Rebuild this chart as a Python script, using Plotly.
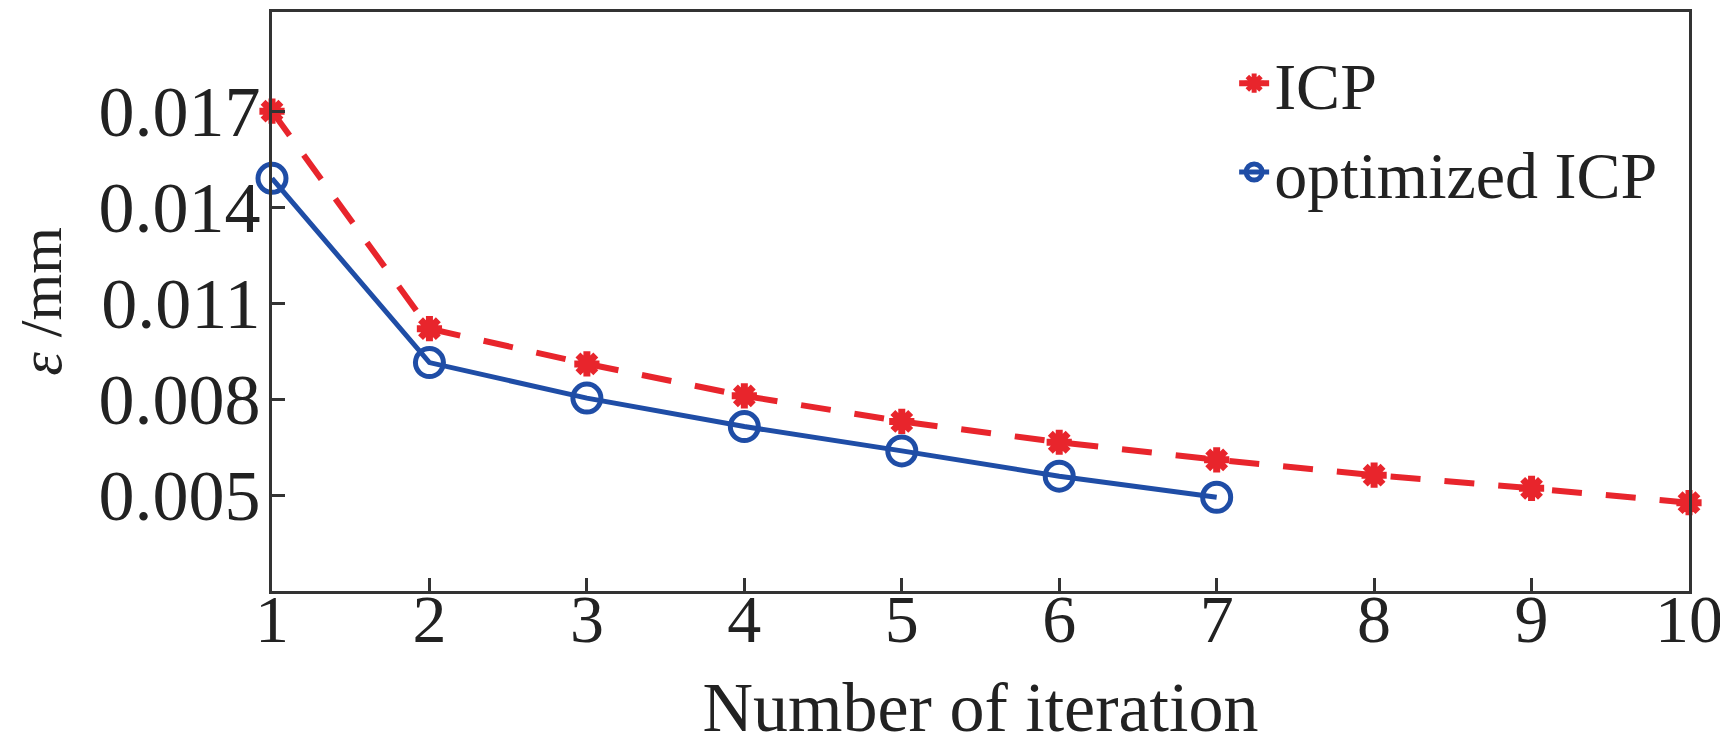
import plotly.graph_objects as go

iterations_icp = [1, 2, 3, 4, 5, 6, 7, 8, 9, 10]
error_icp = [0.0170, 0.0102, 0.0091, 0.0081, 0.0073, 0.00665, 0.0061, 0.00562, 0.00521, 0.00476]

iterations_opt = [1, 2, 3, 4, 5, 6, 7]
error_opt = [0.0149, 0.00914, 0.00803, 0.00714, 0.00638, 0.00559, 0.00493]

x_ticks = [1, 2, 3, 4, 5, 6, 7, 8, 9, 10]
y_ticks = [0.005, 0.008, 0.011, 0.014, 0.017]
y_tick_labels = ["0.005", "0.008", "0.011", "0.014", "0.017"]

RED = "#e8252c"
BLUE = "#1f4da6"
FONT = "Liberation Serif"
TXT = "#222222"

fig = go.Figure()
fig.add_trace(go.Scatter(
    x=iterations_icp, y=error_icp, name="ICP", mode="lines+markers",
    line=dict(color=RED, width=6, dash="30px,24px"),
    marker=dict(symbol="asterisk-open", size=21, color=RED, line=dict(color=RED, width=7)),
    cliponaxis=False,
))
fig.add_trace(go.Scatter(
    x=iterations_opt, y=error_opt, name="optimized ICP", mode="lines+markers",
    line=dict(color=BLUE, width=5),
    marker=dict(symbol="circle-open", size=28, color=BLUE, line=dict(color=BLUE, width=5)),
    cliponaxis=False,
))

axis_common = dict(
    showgrid=False, zeroline=False, showline=True, linecolor="#333333", linewidth=3,
    mirror=True, ticks="inside", ticklen=13, tickwidth=2.5, tickcolor="#333333",
    automargin=False,
)

# page body has an 8px default margin, so the figure is sized to fit the 1728x746 window
fig.update_layout(
    width=1720, height=738,
    margin=dict(l=264, r=39, t=4, b=155),
    paper_bgcolor="white", plot_bgcolor="white",
    font=dict(family=FONT, color=TXT, size=60),
    showlegend=True,
    legend=dict(x=0.679, y=0.80, xanchor="left", yanchor="middle",
                bgcolor="rgba(0,0,0,0)", font=dict(size=66, family=FONT, color=TXT),
                itemsizing="trace", tracegroupgap=0),
    xaxis=dict(range=[1, 10], tickvals=x_ticks,
               tickfont=dict(size=68, family=FONT, color=TXT),
               ticklabelstandoff=-34,
               title=dict(text="Number of iteration", font=dict(size=70, family=FONT, color=TXT), standoff=30),
               **axis_common),
    yaxis=dict(range=[0.002, 0.0201], tickvals=y_ticks, ticktext=y_tick_labels,
               tickfont=dict(size=72, family=FONT, color=TXT), ticklabelstandoff=-6,
               title=dict(text="<i>ε</i> /mm", font=dict(size=60, family=FONT, color=TXT), standoff=36),
               **axis_common),
)

fig.write_html("out.html")
